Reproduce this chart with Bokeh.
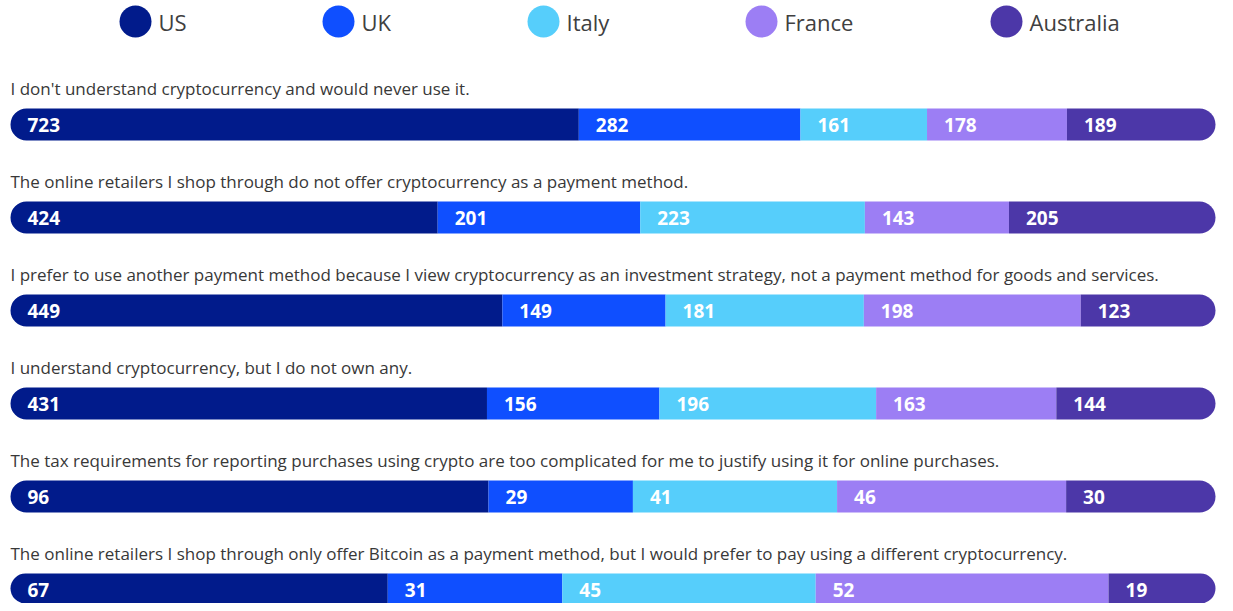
import numpy as np
from bokeh.plotting import figure
from bokeh.models import Range1d, ColumnDataSource
from bokeh.core.properties import value
from bokeh.embed import file_html
from bokeh.resources import INLINE

series = ["US", "UK", "Italy", "France", "Australia"]
colors = ["#011B8B", "#0F4FFF", "#56CEFB", "#9C7EF4", "#4C37A8"]
questions = [
    "I don't understand cryptocurrency and would never use it.",
    "The online retailers I shop through do not offer cryptocurrency as a payment method.",
    "I prefer to use another payment method because I view cryptocurrency as an investment strategy, not a payment method for goods and services.",
    "I understand cryptocurrency, but I do not own any.",
    "The tax requirements for reporting purchases using crypto are too complicated for me to justify using it for online purchases.",
    "The online retailers I shop through only offer Bitcoin as a payment method, but I would prefer to pay using a different cryptocurrency.",
]
us = [723, 424, 449, 431, 96, 67]
uk = [282, 201, 149, 156, 29, 31]
italy = [161, 223, 181, 196, 41, 45]
france = [178, 143, 198, 163, 46, 52]
australia = [189, 205, 123, 144, 30, 19]

W, H = 1217, 603
LEFT = 10          # pixel where share 0 sits
PX = 1205.0        # pixels per unit of share
x0 = -LEFT / PX
p = figure(width=W, height=H, output_backend="svg", toolbar_location=None,
           x_range=Range1d(x0, x0 + W / PX), y_range=Range1d(H, 0),
           min_border=0, background_fill_color="white", border_fill_color="white")
p.axis.visible = False
p.grid.visible = False
p.outline_line_color = None

vals = np.array([us, uk, italy, france, australia], dtype=float).T  # rows x series
share = vals / vals.sum(axis=1, keepdims=True)
cum = np.hstack([np.zeros((len(questions), 1)), np.cumsum(share, axis=1)])
row_y = 124 + 93 * np.arange(len(questions))
bar_h = 32

for j, name in enumerate(series):
    src = ColumnDataSource(dict(left=cum[:, j], right=cum[:, j + 1], y=row_y,
                                label=[str(int(v)) for v in vals[:, j]]))
    if j == 0:
        br = (16, 0, 0, 16)
    elif j == len(series) - 1:
        br = (0, 16, 16, 0)
    else:
        br = 0
    p.hbar(y="y", left="left", right="right", height=bar_h, source=src,
           fill_color=colors[j], line_color=None, border_radius=br)
    p.text(x="left", y="y", text="label", source=src, x_offset=17,
           text_baseline="middle", text_align="left", text_color="white",
           text_font=value("Open Sans"), text_font_size="19px", text_font_style="bold")

p.text(x=np.zeros(len(questions)), y=row_y - 36, text=questions,
       text_baseline="middle", text_align="left", text_color="#383838",
       text_font=value("Open Sans"), text_font_size="17px")

# legend (layout positions in page pixels)
leg_px = np.array([135, 338, 543, 761, 1006])
leg_x = (leg_px - LEFT) / PX
leg_y = 21
p.scatter(x=leg_x, y=[leg_y] * 5, size=32, fill_color=colors, line_color=None)
p.text(x=leg_x, y=[leg_y] * 5, text=series, x_offset=23, text_baseline="middle",
       text_align="left", text_color="#404040", text_font=value("Open Sans"),
       text_font_size="22px")

open("out.html", "w").write(file_html(p, INLINE))
